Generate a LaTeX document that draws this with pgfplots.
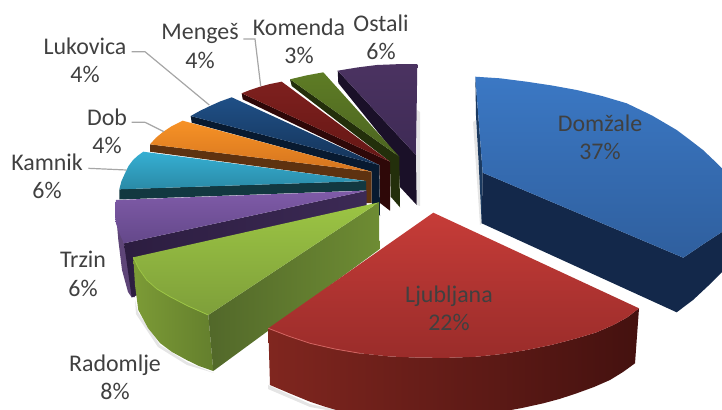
\documentclass[border=0pt]{standalone}
\usepackage{fontspec}
\setmainfont{Carlito}
\usepackage{pgfplots}
\pgfplotsset{compat=1.18}
\newcommand\poly[2]{\addplot[draw=none,forget plot,#1] coordinates {#2};}
\newcommand\rim[2]{\addplot[forget plot,no marks,line width=0.8bp,draw=#1] coordinates {#2};}
\newcommand\lbl[3]{\node[align=center,text=txt,inner sep=0pt,font=\fontsize{24}{28.5}\selectfont] at (axis cs:#1,#2) {#3};}
\newcommand\lead[1]{\addplot[forget plot,no marks,line width=1.2bp,draw=leadc] coordinates {#1};}
\definecolor{txt}{HTML}{404040}
\definecolor{leadc}{HTML}{A6A6A6}
\definecolor{blT}{HTML}{3B78C4}\definecolor{blB}{HTML}{2F5F9E}\definecolor{blS}{HTML}{13284A}\definecolor{blL}{HTML}{1B3A60}
\definecolor{reT}{HTML}{C63C38}\definecolor{reB}{HTML}{9A2C2A}\definecolor{reL}{HTML}{80261F}\definecolor{reM}{HTML}{5A1917}\definecolor{reR}{HTML}{44110F}
\definecolor{grT}{HTML}{9CC544}\definecolor{grB}{HTML}{7E9F3A}\definecolor{grL}{HTML}{52682A}\definecolor{grR}{HTML}{6E8C33}\definecolor{grO}{HTML}{7C9B36}\definecolor{grP}{HTML}{647F2D}
\definecolor{puT}{HTML}{7F5BA8}\definecolor{puB}{HTML}{64488A}\definecolor{puL}{HTML}{2C1D40}\definecolor{puR}{HTML}{3C2A55}\definecolor{puO}{HTML}{5E4578}
\definecolor{cyT}{HTML}{36AFD3}\definecolor{cyB}{HTML}{2A8AA6}\definecolor{cyS}{HTML}{123840}
\definecolor{orT}{HTML}{F79226}\definecolor{orB}{HTML}{D5741E}\definecolor{orS}{HTML}{5E3210}
\definecolor{nvT}{HTML}{1F4F86}\definecolor{nvB}{HTML}{153459}\definecolor{nvS}{HTML}{081A30}
\definecolor{drT}{HTML}{7E201E}\definecolor{drB}{HTML}{651715}\definecolor{drS}{HTML}{2E0808}
\definecolor{dgT}{HTML}{5E7C25}\definecolor{dgB}{HTML}{4C6420}\definecolor{dgS}{HTML}{232F0B}
\definecolor{dpT}{HTML}{4B3361}\definecolor{dpB}{HTML}{3E2A55}\definecolor{dpS}{HTML}{1A1028}
\begin{document}
\begin{tikzpicture}
\useasboundingbox (0,0) rectangle (722bp,410bp);
\begin{axis}[anchor=south west,at={(0,0)},scale only axis,width=722bp,height=410bp,xmin=0,xmax=722,ymin=0,ymax=410,y dir=reverse,hide axis]
% soft shadows
\poly{fill=black!10}{(417,110)(420,112)(420,206)(417,205)}
\poly{fill=black!10}{(473,122)(476,120)(482,223)(480,225)}
\poly{fill=black!10}{(268,385)(310,404)(345,412)(338,412)(310,407)(268,389)}
\poly{fill=black!10}{(135,300)(138,312)(160,345)(187,362)(214,373)(187,365)(158,347)(136,314)}
% Ostali
\poly{fill=dpS}{(337.7,70.7)(416,155)(416.7,205)(400,187)(398,157)(338.3,83)}
\poly{top color=dpT,bottom color=dpB}{(337.7,70.7)(357,67.5)(376.7,65)(397,64.2)(417.3,64)(416,155)}
% small green
\poly{fill=dgS}{(290,79.3)(399.3,156.7)(400,207.3)(390.7,196.7)(390,161.7)(291.7,86)}
\poly{top color=dgT,bottom color=dgB}{(290,79.3)(306,75.5)(323.3,72.3)(399.3,156.7)}
% Komenda
\poly{fill=drS}{(241.7,93.3)(390,161.7)(390,210.7)(380,203)(379.3,165)(242.7,99.3)}
\poly{top color=drT,bottom color=drB}{(241.7,93.3)(250,90)(260,86.7)(270,84)(281.7,81.7)(390,161.7)}
% Lukovica
\poly{fill=nvS}{(190.7,116)(379.3,165)(380,216)(371.7,203)(371.7,171.7)(191.7,122.7)}
\poly{top color=nvT,bottom color=nvB}{(190.7,116)(200,110.8)(210,106)(220,101.5)(231.7,97.3)(379.3,165)}
% Dob
\poly{fill=orS}{(150,144.3)(371.7,171.7)(371.7,203)(366,203)(366,181)(150,151.7)}
\poly{top color=orT,bottom color=orB}{(150,144.3)(156,137.7)(163.3,131.7)(172,126)(182.7,120.7)(371.7,171.7)}
% Kamnik
\poly{fill=cyS}{(119.3,189.3)(366,181)(366,190.5)(119.3,199.5)}
\poly{top color=cyT,bottom color=cyB}{(119.3,189.3)(121.5,181)(125,173.3)(128.5,166)(133,160)(138,155.5)(143.3,151.7)(366,181)}
% Trzin
\poly{fill=puO}{(116,213)(118.3,240)(122,270)(128,292)(131.7,297.3)(135,297)(124,243.3)}
\poly{left color=puL,right color=puR}{(124,243.3)(366.7,190.7)(366.7,206)(131.7,297.3)}
\poly{top color=puT,bottom color=puB}{(116,200)(115,208)(115,216.7)(116,223.5)(118.3,230)(120.8,236.7)(124,243.3)(366.7,190.7)}
% Radomlje
\poly{left color=grO,right color=grP}{(133.3,257.3)(139,269)(146.7,280)(157,289)(170,296.7)(188,306)(208.3,315)(213.3,371)(199,366)(186.7,360)(172,352)(160,343)(148,328)(138.3,310)(135,285)}
\poly{left color=grL,right color=grR}{(379,202.3)(208.3,315)(213.3,371)(379.3,249.3)}
\poly{top color=grT,bottom color=grB}{(133.3,257.3)(139,269)(146.7,280)(157,289)(170,296.7)(188,306)(208.3,315)(379,202.3)}
\rim{grT}{(133.3,257.3)(139,269)(146.7,280)(157,289)(170,296.7)(188,306)(208.3,315)}
% Ljubljana
\poly{left color=reL,middle color=reM,right color=reR}{(268.3,328.3)(289,336.3)(310,343.3)(335,349)(360,353.3)(390,356.5)(420,357.7)(448,357.8)(476.7,356.7)(502,354)(526.7,350)(552,344.8)(576.7,338.3)(596,332.5)(613.3,325)(627,317.5)(639,308.3)(635,363.3)(623,372)(610,380)(594,387)(576.7,393.3)(560,398.8)(543.3,403.3)(522,408)(500,412)(343,412)(326,407)(310,401.7)(290,393.5)(270,385)}
\poly{top color=reT,bottom color=reB}{(433.3,212.7)(639,308.3)(627,317.5)(613.3,325)(596,332.5)(576.7,338.3)(552,344.8)(526.7,350)(502,354)(476.7,356.7)(448,357.8)(420,357.7)(390,356.5)(360,353.3)(335,349)(310,343.3)(289,336.3)(268.3,328.3)}
\rim{reT!80!white}{(268.3,328.3)(289,336.3)(310,343.3)(335,349)(360,353.3)}
% Domzale
\poly{fill=blL}{(475.3,76.7)(482.7,172.7)(481.7,223.3)(478.5,160)(476,116)}
\poly{fill=blS}{(482.7,172.7)(683.3,257.7)(705,243)(722,232)(722,272)(708,286)(693,300)(676.7,312.3)(481.7,223.3)}
\poly{top color=blT,bottom color=blB}{(475.3,76.7)(500,78.3)(526.7,81.7)(552,85.5)(576.7,90)(602,96)(626.7,103.3)(652,115.5)(676.7,130)(690,140)(703,150)(713,159.5)(722,168.3)(722,232)(705,243)(683.3,257.7)(482.7,172.7)}
% leader lines
\lead{(131.7,51.7)(145,51.7)(209.3,105)}
\lead{(131.7,122.3)(145,122.3)(164,131.7)}
\lead{(88.3,168.3)(126.7,170)}
\lead{(243.3,39)(255,39)(260.7,86)}
% labels
\lbl{381}{37}{Ostali\\6\%}
\lbl{299}{41.5}{Komenda\\3\%}
\lbl{200}{46}{Mengeš\\4\%}
\lbl{85}{60}{Lukovica\\4\%}
\lbl{107}{131}{Dob\\4\%}
\lbl{47}{176.5}{Kamnik\\6\%}
\lbl{83}{274}{Trzin\\6\%}
\lbl{115}{377.5}{Radomlje\\8\%}
\lbl{600}{137.5}{Domžale\\37\%}
\lbl{449}{308.5}{Ljubljana\\22\%}
\end{axis}
\end{tikzpicture}
\end{document}
